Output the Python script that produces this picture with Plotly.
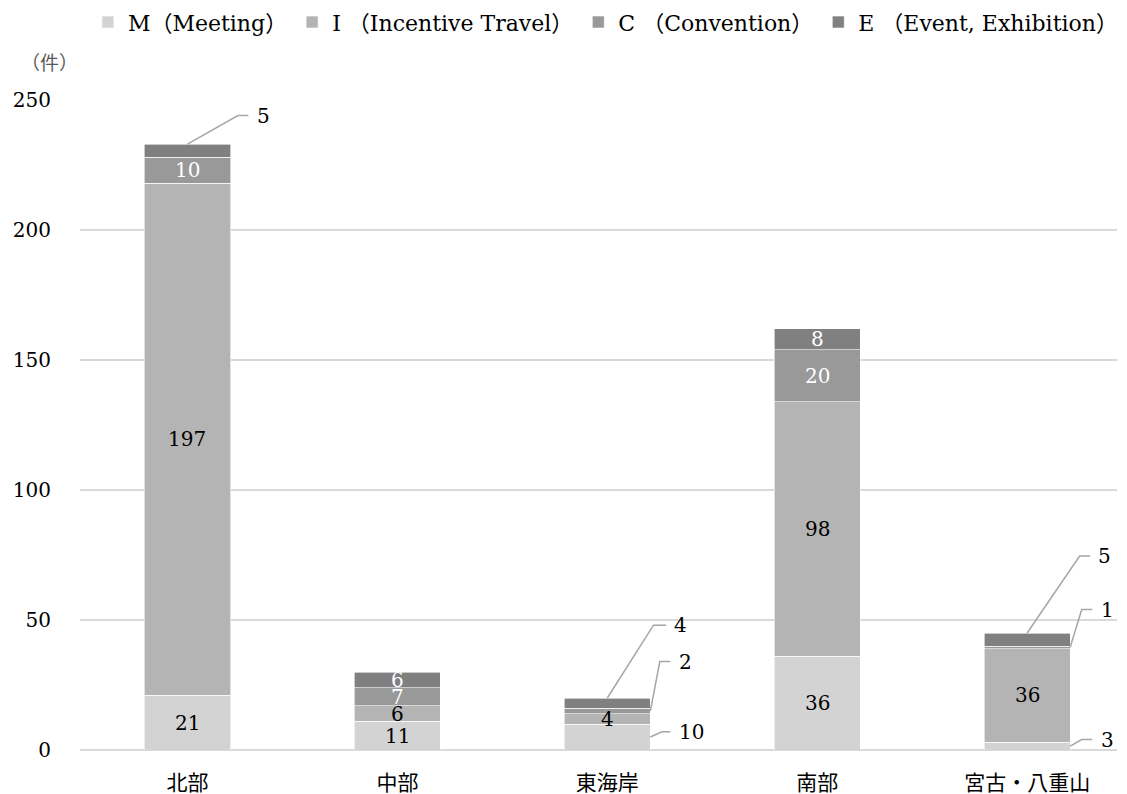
import plotly.graph_objects as go

# Regions and MICE counts per category (件)
regions = ["北部", "中部", "東海岸", "南部", "宮古・八重山"]
series_names = ["M（Meeting）", "I （Incentive Travel）", "C （Convention）", "E （Event, Exhibition）"]
meeting = [21, 11, 10, 36, 3]
incentive = [197, 6, 4, 98, 36]
convention = [10, 7, 2, 20, 1]
event = [5, 6, 4, 8, 5]

series_values = [meeting, incentive, convention, event]
colors = ["#d3d3d3", "#b4b4b4", "#999999", "#808080"]
text_colors = ["black", "black", "white", "white"]

# Segments labelled outside the bar with a leader line:
# (region index, series index, elbow dx, elbow y, end dx, label dx)
outside = [
    (0, 3, 0.24, 244, 0.29, 0.32),
    (2, 3, 0.22, 48, 0.28, 0.31),
    (2, 2, 0.25, 34, 0.30, 0.33),
    (2, 0, 0.26, 7, 0.30, 0.33),
    (4, 3, 0.25, 74.6, 0.30, 0.33),
    (4, 2, 0.26, 54, 0.31, 0.34),
    (4, 0, 0.26, 4, 0.31, 0.34),
]
outside_keys = {(r, s) for r, s, *_ in outside}

FONT = "'DejaVu Serif', 'Noto Sans CJK JP', serif"
BAR_HALF = 0.205

x = list(range(len(regions)))
fig = go.Figure()
for name, vals, col in zip(series_names, series_values, colors):
    fig.add_trace(go.Bar(
        x=x, y=vals, name=name,
        marker=dict(color=col, line=dict(color="white", width=0.6)),
        hoverinfo="skip",
    ))

annotations = []
bases = [[0] * len(regions) for _ in series_values]
for i in range(len(regions)):
    acc = 0
    for s, vals in enumerate(series_values):
        bases[s][i] = acc
        acc += vals[i]

# Values printed inside the bars
for s, vals in enumerate(series_values):
    for i, v in enumerate(vals):
        if (i, s) in outside_keys:
            continue
        annotations.append(dict(
            x=i, y=bases[s][i] + v / 2, text=str(v), showarrow=False,
            font=dict(family=FONT, size=20, color=text_colors[s]),
            xanchor="center", yanchor="middle",
        ))

# Leader lines and labels for small segments
for r, s, edx, ey, endx, ldx in outside:
    v = series_values[s][r]
    if s == 3:
        x0, y0 = r, bases[s][r] + v
    else:
        x0, y0 = r + BAR_HALF, bases[s][r] + v / 2
    fig.add_trace(go.Scatter(
        x=[x0, r + edx, r + endx], y=[y0, ey, ey], mode="lines",
        line=dict(color="#a6a6a6", width=1.5), showlegend=False, hoverinfo="skip",
    ))
    annotations.append(dict(
        x=r + ldx, y=ey, text=str(v), showarrow=False,
        font=dict(family=FONT, size=20, color="black"),
        xanchor="left", yanchor="middle",
    ))

annotations.append(dict(
    xref="paper", yref="paper", x=-0.029, y=1.057, text="（件）", showarrow=False,
    font=dict(family=FONT, size=19, color="#595959"), xanchor="center", yanchor="middle",
))

fig.update_layout(
    width=1127, height=794,
    margin=dict(l=80, r=10, t=100, b=44, autoexpand=False),
    barmode="stack", bargap=0.59,
    plot_bgcolor="white", paper_bgcolor="white",
    font=dict(family=FONT, size=20, color="black"),
    legend=dict(
        orientation="h", xref="container", yref="container",
        x=0.078, xanchor="left", y=0.972, yanchor="middle",
        font=dict(family=FONT, size=22, color="black"),
        itemwidth=30, traceorder="normal",
    ),
    annotations=annotations,
    xaxis=dict(
        range=[-0.512, 4.428], tickvals=x, ticktext=regions,
        showgrid=False, zeroline=False, showline=False, ticks="",
        tickfont=dict(family=FONT, size=21), ticklabelstandoff=18,
    ),
    yaxis=dict(
        range=[0, 250], dtick=50, showgrid=True, gridcolor="#d9d9d9", gridwidth=1.5,
        zeroline=True, zerolinecolor="#d9d9d9", zerolinewidth=1.5,
        showline=False, ticks="", ticklabelstandoff=28,
        tickfont=dict(family=FONT, size=20),
    ),
)

fig.write_html("out.html")
